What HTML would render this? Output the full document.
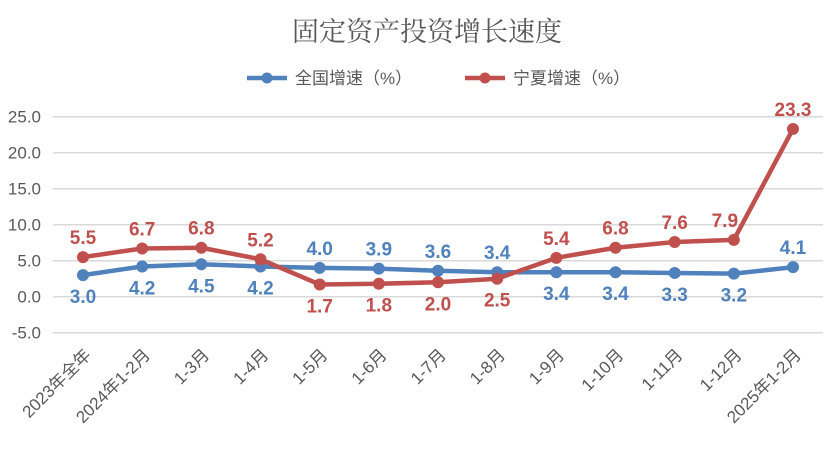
<!DOCTYPE html>
<html><head><meta charset="utf-8"><style>
body{margin:0;background:#fff;width:827px;height:444px;overflow:hidden}
svg{font-family:"Liberation Sans","Noto Sans CJK SC",sans-serif}
</style></head><body>
<svg id="c" width="827" height="444">
<text x="427" y="41" text-anchor="middle" font-size="27" fill="#595959" font-family="'Liberation Serif','Noto Serif CJK SC',serif">固定资产投资增长速度</text>
<g>
<g><line x1="247" y1="78" x2="287" y2="78" stroke="#4f81bd" stroke-width="4.5"/><circle cx="267" cy="78" r="5.5" fill="#4f81bd"/><text x="295" y="84" font-size="17" fill="#595959">全国增速（%）</text></g>
<g><line x1="465" y1="78" x2="505" y2="78" stroke="#c0504d" stroke-width="4.5"/><circle cx="485" cy="78" r="5.5" fill="#c0504d"/><text x="513" y="84" font-size="17" fill="#595959">宁夏增速（%）</text></g>
</g>
<g id="grid"></g><g id="series"></g><g id="labels"></g>
</svg>
<script>
const categories=["2023年全年","2024年1-2月","1-3月","1-4月","1-5月","1-6月","1-7月","1-8月","1-9月","1-10月","1-11月","1-12月","2025年1-2月"];
const nationalValues=[3.0,4.2,4.5,4.2,4.0,3.9,3.6,3.4,3.4,3.4,3.3,3.2,4.1];
const ningxiaValues=[5.5,6.7,6.8,5.2,1.7,1.8,2.0,2.5,5.4,6.8,7.6,7.9,23.3];
const yTicks=[25,20,15,10,5,0,-5];
const nationalAbove=[0,0,0,0,1,1,1,1,0,0,0,0,1];
const ningxiaAbove=[1,1,1,1,0,0,0,0,1,1,1,1,1];
const NS="http://www.w3.org/2000/svg";
const y=v=>296.7-v*7.2;
const x=i=>83+i*(793-83)/(categories.length-1);
function mk(tag,attrs,parent,text){const e=document.createElementNS(NS,tag);for(const k in attrs)e.setAttribute(k,attrs[k]);if(text!==undefined)e.textContent=text;parent.appendChild(e);return e;}
const grid=document.getElementById('grid');
yTicks.forEach(t=>{
 const l=mk('line',{x1:53,x2:823,y1:y(t),y2:y(t),stroke:'#d9d9d9','stroke-width':1.5},grid);
 
 
 const tx=mk('text',{x:41,y:y(t)+6,'text-anchor':'end','font-size':17,fill:'#595959'},grid,t.toFixed(1));
 
 
});
categories.forEach((c,i)=>{
 const ax=x(i)+9,ay=356;
 const tx=mk('text',{x:ax,y:ay,'text-anchor':'end','font-size':17,fill:'#595959',transform:`rotate(-45 ${ax} ${ay})`},grid,c);
 
 
});
const ser=document.getElementById('series'),lab=document.getElementById('labels');
function draw(vals,above,color,name){
 const p=mk('polyline',{points:vals.map((v,i)=>x(i)+','+y(v)).join(' '),fill:'none',stroke:color,'stroke-width':4.5,'stroke-linejoin':'round'},ser);
 
 
 vals.forEach((v,i)=>{
  const c=mk('circle',{cx:x(i),cy:y(v),r:6,fill:color},ser);
  
  
  const ly=above[i]?y(v)-13:y(v)+28;
  const lx=(name==='ningxia'&&i===categories.length-2)?x(i)-9:x(i);
  const t=mk('text',{x:lx,y:ly,'text-anchor':'middle','font-size':19,'font-weight':'bold',fill:color},lab,v.toFixed(1));
  
  
 });
}
draw(nationalValues,nationalAbove,'#4f81bd','national');
draw(ningxiaValues,ningxiaAbove,'#c0504d','ningxia');
</script>
</body></html>
